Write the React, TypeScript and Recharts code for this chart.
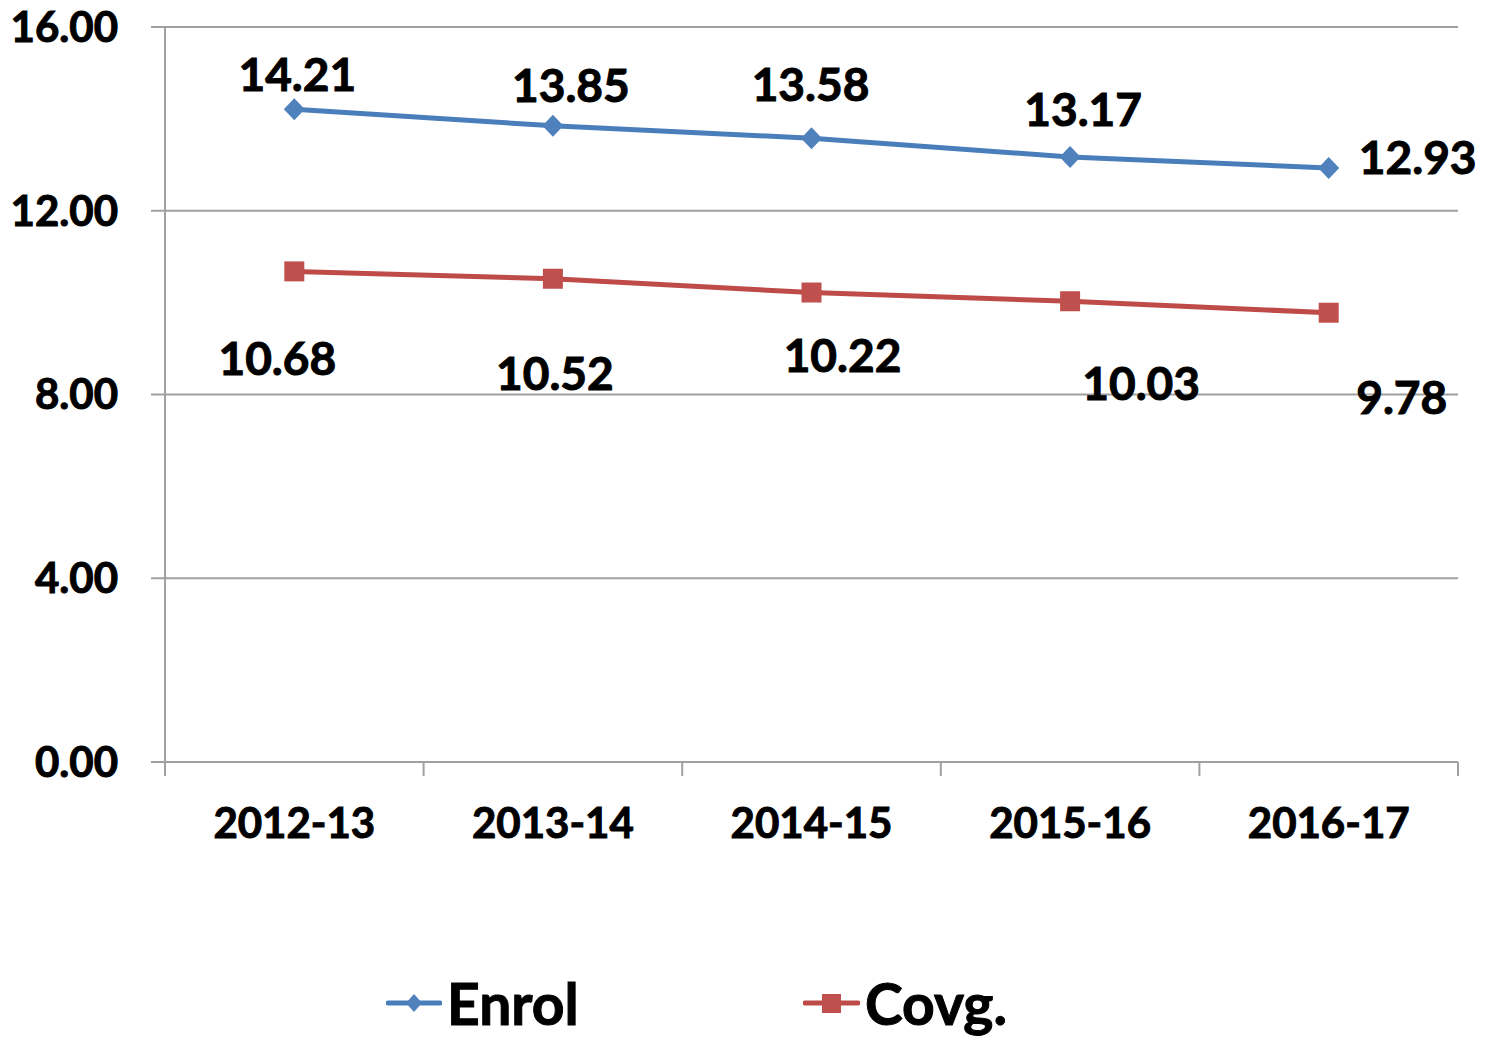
import React from 'react';
import { LineChart, Line, XAxis, YAxis, CartesianGrid, Legend, LabelList } from 'recharts';

const categories = ['2012-13', '2013-14', '2014-15', '2015-16', '2016-17'];
const enrolValues = [14.21, 13.85, 13.58, 13.17, 12.93];
const covgValues = [10.68, 10.52, 10.22, 10.03, 9.78];
const yTicks = [0, 4, 8, 12, 16];
const seriesNames = ['Enrol', 'Covg.'];

// label placement offsets (px) relative to each point, as in the reference
const enrolLabelOffsets = [[3, -35], [18, -40], [-1, -54], [13, -47], [89, -10]];
const covgLabelOffsets = [[-17, 87], [2, 95], [31, 63], [71, 82], [73, 85]];

const data = categories.map((c, i) => ({ cat: c, enrol: enrolValues[i], covg: covgValues[i] }));

const FONT = 'Lato, "Open Sans", sans-serif';
const WEIGHT = 700;
const BLUE = '#4A7EBB';
const BLUE_M = '#4F81BD';
const RED = '#BE4B48';
const RED_M = '#C0504D';
const GRID = '#A0A0A0';
const TICK_FS = 42;
const LABEL_FS = 46;
const TEXT_STROKE = 1;
const X_TICK_MARGIN = 46;
const X_TICK_LEN = 14;
const LINE_W = 5;

const Diamond = (props: any) => {
  const { cx, cy } = props;
  if (cx == null || cy == null) return null;
  return (
    <polygon
      points={`${cx},${cy - 11} ${cx + 10.5},${cy} ${cx},${cy + 11} ${cx - 10.5},${cy}`}
      fill={BLUE_M}
    />
  );
};

const Square = (props: any) => {
  const { cx, cy } = props;
  if (cx == null || cy == null) return null;
  return <rect x={cx - 10} y={cy - 10} width={20} height={20} fill={RED_M} />;
};

const makeLabel = (offsets: number[][]) => (props: any) => {
  const { x, y, value, index } = props;
  const [dx, dy] = offsets[index] || [0, 0];
  return (
    <text
      x={x + dx}
      y={y + dy + LABEL_FS * 0.358}
      textAnchor="middle"
      fontFamily={FONT}
      fontWeight={WEIGHT}
      fontSize={LABEL_FS}
      fill="#000"
      stroke="#000"
      strokeWidth={TEXT_STROKE}
    >
      {Number(value).toFixed(2)}
    </text>
  );
};

// category label at the band centre, tick marks at the band boundaries
const CategoryTick = (props: any) => {
  const { x, y, payload, index, width, visibleTicksCount } = props;
  const bw = Number(width) / Number(visibleTicksCount);
  const axisY = y - X_TICK_MARGIN;
  const isLast = index === visibleTicksCount - 1;
  return (
    <g>
      <line x1={x - bw / 2} x2={x - bw / 2} y1={axisY} y2={axisY + X_TICK_LEN} stroke={GRID} strokeWidth={2} />
      {isLast && (
        <line x1={x + bw / 2} x2={x + bw / 2} y1={axisY} y2={axisY + X_TICK_LEN} stroke={GRID} strokeWidth={2} />
      )}
      <text
        x={x}
        y={y}
        dy="0.71em"
        textAnchor="middle"
        fontFamily={FONT}
        fontWeight={WEIGHT}
        fontSize={TICK_FS}
        fill="#000"
        stroke="#000"
        strokeWidth={TEXT_STROKE}
      >
        {payload.value}
      </text>
    </g>
  );
};

const LegendContent = () => {
  const itemStyle: React.CSSProperties = {
    position: 'absolute',
    top: 0,
    height: 70,
    display: 'flex',
    alignItems: 'center',
  };
  return (
    <div
      style={{
        position: 'relative',
        height: 70,
        fontFamily: FONT,
        fontWeight: WEIGHT,
        fontSize: 57,
        lineHeight: '70px',
        color: '#000',
        WebkitTextStroke: '1px #000',
      }}
    >
      <div style={{ ...itemStyle, left: 0 }}>
        <svg width={56} height={24}>
          <line x1={2} y1={12} x2={54} y2={12} stroke={BLUE} strokeWidth={5} strokeLinecap="round" />
          <polygon points="28,3 36,12 28,21 20,12" fill={BLUE_M} />
        </svg>
        <span style={{ marginLeft: 5 }}>{seriesNames[0]}</span>
      </div>
      <div style={{ ...itemStyle, left: 417 }}>
        <svg width={57} height={24}>
          <line x1={2} y1={12} x2={55} y2={12} stroke={RED} strokeWidth={5} strokeLinecap="round" />
          <rect x={19} y={3} width={19} height={19} fill={RED_M} />
        </svg>
        <span style={{ marginLeft: 5 }}>{seriesNames[1]}</span>
      </div>
    </div>
  );
};

const tickStyle = {
  fontFamily: FONT,
  fontWeight: WEIGHT,
  fontSize: TICK_FS,
  fill: '#000',
  stroke: '#000',
  strokeWidth: TEXT_STROKE,
};

export default function App() {
  return (
    <div style={{ position: 'absolute', left: 0, top: 0, background: '#fff' }}>
      <LineChart
        width={1485}
        height={1037}
        data={data}
        margin={{ top: 27, right: 27, bottom: 274, left: 0 }}
      >
        <CartesianGrid vertical={false} stroke={GRID} strokeWidth={2} />
        <XAxis
          dataKey="cat"
          scale="band"
          height={1}
          interval={0}
          axisLine={false}
          tickLine={false}
          tickSize={0}
          tickMargin={X_TICK_MARGIN}
          tick={<CategoryTick />}
        />
        <YAxis
          width={165}
          domain={[0, 16]}
          ticks={yTicks}
          interval={0}
          tickFormatter={(v: number) => v.toFixed(2)}
          axisLine={{ stroke: GRID, strokeWidth: 2 }}
          tickLine={{ stroke: GRID, strokeWidth: 2 }}
          tickSize={14}
          tickMargin={33}
          tick={tickStyle}
        />
        <Legend
          verticalAlign="middle"
          layout="horizontal"
          align="center"
          wrapperStyle={{ left: 386, top: 968, width: 700, height: 70 }}
          content={() => <LegendContent />}
        />
        <Line
          dataKey="enrol"
          name={seriesNames[0]}
          stroke={BLUE}
          strokeWidth={LINE_W}
          dot={<Diamond />}
          activeDot={false}
          isAnimationActive={false}
        >
          <LabelList dataKey="enrol" content={makeLabel(enrolLabelOffsets)} />
        </Line>
        <Line
          dataKey="covg"
          name={seriesNames[1]}
          stroke={RED}
          strokeWidth={LINE_W}
          dot={<Square />}
          activeDot={false}
          isAnimationActive={false}
        >
          <LabelList dataKey="covg" content={makeLabel(covgLabelOffsets)} />
        </Line>
      </LineChart>
    </div>
  );
}
